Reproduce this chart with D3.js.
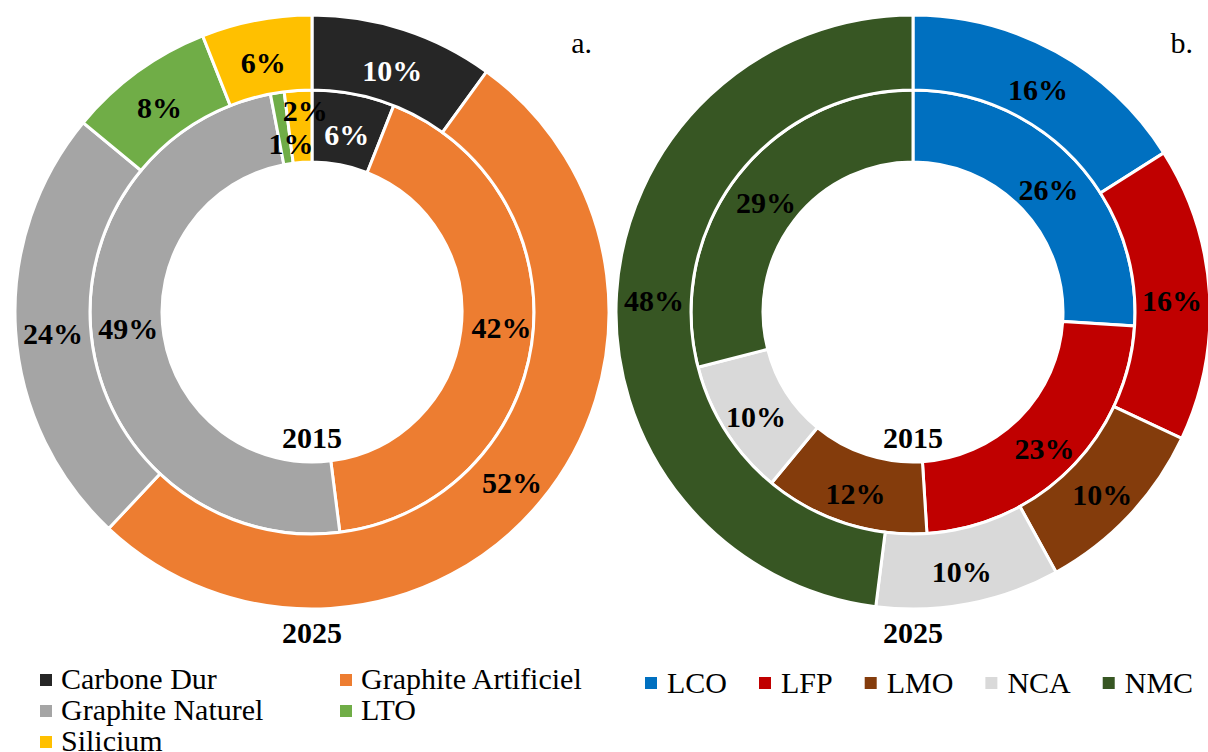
<!DOCTYPE html>
<html>
<head>
<meta charset="utf-8">
<script src="https://cdn.jsdelivr.net/npm/d3@7"></script>
<style>
    body { margin: 0; background: #fff; }
    svg text { font-family: "Liberation Serif", "Times New Roman", Times, serif; }
    .lbl { font-weight: bold; font-size: 30px; }
    .year { font-weight: bold; font-size: 30px; }
    .leg { font-size: 30px; }
</style>
</head>
<body>
<div id="chart"></div>
<script>
// anode materials (chart a.)
var anodeCats = ["Carbone Dur", "Graphite Artificiel", "Graphite Naturel", "LTO", "Silicium"];
var anode2015 = [6, 42, 49, 1, 2];
var anode2025 = [10, 52, 24, 8, 6];
var anodeColors = ["#262626", "#ED7D31", "#A5A5A5", "#70AD47", "#FFC000"];

// cathode materials (chart b.)
var cathodeCats = ["LCO", "LFP", "LMO", "NCA", "NMC"];
var cathode2015 = [26, 23, 12, 10, 29];
var cathode2025 = [16, 16, 10, 10, 48];
var cathodeColors = ["#0070C0", "#C00000", "#843C0C", "#D9D9D9", "#375623"];

var years = ["2015", "2025"];

function init() {
    var w = 1208;
    var h = 752;
    var svg = d3.select("#chart").append("svg").attr("width", w).attr("height", h);

    donut(svg, 312, 312, anodeCats, anode2015, anode2025, anodeColors, "a.", {
        // label tweaks, Excel moves a few of them off the centroid
        inner: { 1: [5, -13], 2: [0, -18], 3: [8, 10], 4: [5, -21] },
        outer: {}
    });
    donut(svg, 913, 312, cathodeCats, cathode2015, cathode2025, cathodeColors, "b.", { inner: {}, outer: {} });

    // legend a. (two columns, last row cut by the page edge like the original)
    var legA = svg.append("g");
    anodeCats.forEach(function(c, i) {
        var col = i % 2, row = Math.floor(i / 2);
        var x = 40 + col * 300, y = 680 + row * 31;
        legA.append("rect").attr("x", x).attr("y", y - 6).attr("width", 12).attr("height", 12)
            .attr("fill", anodeColors[i]);
        legA.append("text").attr("class", "leg").attr("x", x + 21).attr("y", y + 9).text(c);
    });

    // legend b. (one row, items laid out by text width)
    var legB = svg.append("g");
    var x = 645;
    cathodeCats.forEach(function(c, i) {
        legB.append("rect").attr("x", x).attr("y", 677).attr("width", 12).attr("height", 12)
            .attr("fill", cathodeColors[i]);
        var t = legB.append("text").attr("class", "leg").attr("x", x + 22).attr("y", 693).text(c);
        x += 22 + t.node().getComputedTextLength() + 32;
    });
}

function donut(svg, cx, cy, cats, inner, outer, colors, tag, nudge) {
    var g = svg.append("g").attr("transform", "translate(" + cx + "," + cy + ")");
    var pie = d3.pie().sort(null).value(function(d) { return d; });

    var rings = [
        { data: inner, r0: 150, r1: 222, nudge: nudge.inner },
        { data: outer, r0: 222, r1: 297, nudge: nudge.outer }
    ];

    rings.forEach(function(ring) {
        var arc = d3.arc().innerRadius(ring.r0).outerRadius(ring.r1);
        var arcs = pie(ring.data);
        g.selectAll(null).data(arcs).enter().append("path")
            .attr("d", arc)
            .attr("fill", function(d, i) { return colors[i]; })
            .attr("stroke", "#fff")
            .attr("stroke-width", 3);

        g.selectAll(null).data(arcs).enter().append("text")
            .attr("class", "lbl")
            .attr("text-anchor", "middle")
            .attr("dominant-baseline", "central")
            .attr("transform", function(d, i) {
                var p = arc.centroid(d);
                var off = ring.nudge[i] || [0, 0];
                return "translate(" + (p[0] + off[0]) + "," + (p[1] + 5 + off[1]) + ")";
            })
            .attr("fill", function(d, i) { return colors[i] === "#262626" ? "#fff" : "#000"; })
            .text(function(d) { return d.data + "%"; });
    });

    g.append("text").attr("class", "year").attr("text-anchor", "middle")
        .attr("x", 0).attr("y", 136).text(years[0]);
    g.append("text").attr("class", "year").attr("text-anchor", "middle")
        .attr("x", 0).attr("y", 331).text(years[1]);

    svg.append("text").attr("class", "leg").attr("text-anchor", "end")
        .attr("x", cx + 280).attr("y", cy - 259).text(tag);
}

window.onload = init;
</script>
</body>
</html>
